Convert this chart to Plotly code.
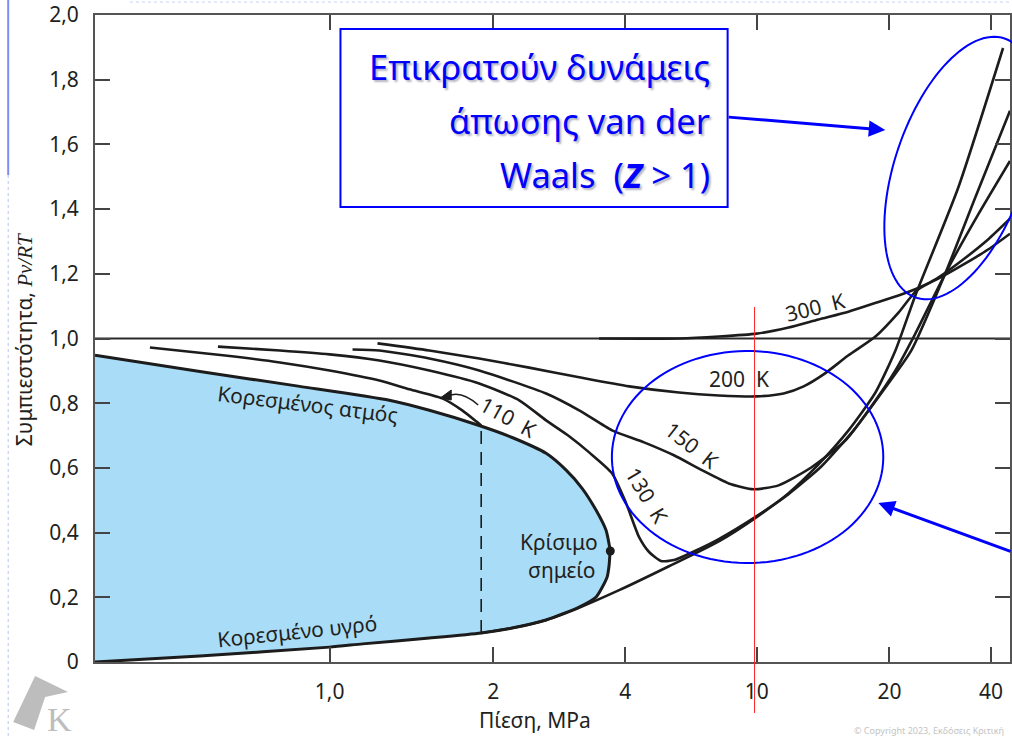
import numpy as np
import plotly.graph_objects as go

# ---------------------------------------------------------------------------
# Pressure axis (MPa): labelled pressures and their position along the axis
# ---------------------------------------------------------------------------
TICK_P = [1, 2, 4, 10, 20, 40]
TICK_TEXT = ["1,0", "2", "4", "10", "20", "40"]
TICK_POS = [0.0, 0.383, 0.692, 1.0, 1.311, 1.549]
P_MIN, P_MAX = 0.37, 45.5

Z_TICKS = [0, 0.2, 0.4, 0.6, 0.8, 1.0, 1.2, 1.4, 1.6, 1.8, 2.0]
Z_TICK_TEXT = ["0", "0,2", "0,4", "0,6", "0,8", "1,0", "1,2", "1,4", "1,6", "1,8", "2,0"]

# ---------------------------------------------------------------------------
# Compressibility factor Z = Pv/RT of nitrogen versus pressure (MPa)
# ---------------------------------------------------------------------------
P_IDEAL = [P_MIN, P_MAX]
Z_IDEAL = [1.0, 1.0]

P_SAT_VAPOR = [0.370, 0.577, 0.881, 1.288, 1.526, 1.885, 2.21, 2.641, 2.934, 3.191, 3.435, 3.619, 3.697]
Z_SAT_VAPOR = [0.948, 0.898, 0.852, 0.809, 0.778, 0.731, 0.694, 0.645, 0.593, 0.537, 0.469, 0.407, 0.346]

P_SAT_LIQUID = [3.697, 3.677, 3.638, 3.435, 3.142, 2.641, 2.21, 1.901, 1.526, 1.150, 1.0, 0.577, 0.370]
Z_SAT_LIQUID = [0.346, 0.299, 0.262, 0.201, 0.170, 0.130, 0.105, 0.0895, 0.074, 0.056, 0.046, 0.0185, 0.0]

P_CRIT, Z_CRIT = 3.70, 0.343

# 110 K: vapour branch, two-phase tie line, compressed-liquid branch
P_110_GAS = [0.467, 0.636, 0.810, 1.0, 1.235, 1.402, 1.612, 1.754, 1.861, 1.901]
Z_110_GAS = [0.972, 0.948, 0.926, 0.901, 0.870, 0.843, 0.815, 0.778, 0.744, 0.731]
P_110_SAT = 1.901
P_110_LIQ = [1.901, 2.21, 2.641, 3.092, 3.876, 5.428, 7.68, 10.0, 11.81, 13.81, 16.15, 18.59, 20.83, 23.86, 31.96, 43.4]
Z_110_LIQ = [0.0895, 0.105, 0.130, 0.164, 0.222, 0.296, 0.373, 0.448, 0.522, 0.611, 0.716, 0.833, 0.963, 1.133, 1.466, 1.898]

P_130 = [0.623, 0.810, 1.0, 1.235, 1.526, 1.885, 2.293, 2.641, 2.981, 3.311, 3.736, 4.028, 4.409, 4.726,
         5.135, 5.619, 6.687, 7.68, 10.0, 11.81, 14.03, 16.58, 19.38, 23.22, 29.26, 35.88, 45.5]
Z_130 = [0.975, 0.963, 0.951, 0.932, 0.901, 0.861, 0.809, 0.747, 0.698, 0.648, 0.583, 0.491, 0.386, 0.340,
         0.312, 0.315, 0.349, 0.380, 0.451, 0.519, 0.605, 0.716, 0.840, 0.963, 1.201, 1.435, 1.704]

P_150 = [1.102, 1.235, 1.526, 1.885, 2.641, 3.142, 3.736, 4.564, 5.619, 6.828, 8.234, 9.79, 11.21, 13.32,
         15.90, 17.93, 20.83, 23.86, 27.33, 30.48, 36.61, 45.5]
Z_150 = [0.966, 0.963, 0.938, 0.901, 0.830, 0.778, 0.716, 0.679, 0.639, 0.593, 0.552, 0.534, 0.546, 0.602,
         0.685, 0.778, 0.901, 1.015, 1.139, 1.235, 1.383, 1.549]

P_200 = [1.225, 1.526, 1.885, 2.416, 3.142, 4.113, 5.819, 7.68, 10.0, 11.51, 12.78, 14.18, 16.15, 18.59,
         21.27, 24.03, 27.90, 33.06, 39.18, 45.5]
Z_200 = [0.985, 0.963, 0.938, 0.910, 0.880, 0.852, 0.833, 0.824, 0.821, 0.830, 0.852, 0.889, 0.948, 1.006,
         1.080, 1.148, 1.188, 1.244, 1.306, 1.370]

P_300 = [3.488, 5.819, 7.68, 10.0, 11.81, 13.81, 16.15, 18.40, 21.27, 24.03, 27.90, 33.06, 39.18, 45.5]
Z_300 = [1.0, 1.0, 1.006, 1.015, 1.034, 1.059, 1.083, 1.108, 1.133, 1.154, 1.185, 1.228, 1.275, 1.324]


def axis_pos(p):
    """Pressure (MPa) -> position on the stretched logarithmic pressure axis."""
    lp = np.log10(np.atleast_1d(np.asarray(p, dtype=float)))
    lt = np.log10(TICK_P)
    out = np.interp(lp, lt, TICK_POS)
    lo, hi = lp < lt[0], lp > lt[-1]
    out[lo] = TICK_POS[0] + (lp[lo] - lt[0]) * (TICK_POS[1] - TICK_POS[0]) / (lt[1] - lt[0])
    out[hi] = TICK_POS[-1] + (lp[hi] - lt[-1]) * (TICK_POS[-1] - TICK_POS[-2]) / (lt[-1] - lt[-2])
    return out


# ---------------------------------------------------------------------------
# Figure geometry (pixels) and helpers for decorations placed in paper space
# ---------------------------------------------------------------------------
W, H = 1012, 737
M_L, M_R, M_T, M_B = 95, 0, 15, 75
PW, PH = W - M_L - M_R, H - M_T - M_B


def fx(px):
    return (px - M_L) / PW


def fy(py):
    return (H - M_B - py) / PH


def ellipse_path(cx, cy, a, b, angle_deg, n=120):
    th = np.radians(angle_deg)
    t = np.linspace(0, 2 * np.pi, n)
    xs = cx + a * np.cos(t) * np.cos(th) - b * np.sin(t) * np.sin(th)
    ys = cy - (a * np.cos(t) * np.sin(th) + b * np.sin(t) * np.cos(th))
    pts = [f"{fx(x):.5f},{fy(y):.5f}" for x, y in zip(xs, ys)]
    return "M" + " L".join(pts) + " Z"


INK = "#1c1c1c"
TEXT = "#231F20"
BLUE = "#0000FF"
FONT = "Noto Sans"
DOME_FILL = "#A9DDF7"

fig = go.Figure()

# two-phase dome
dome_p = P_SAT_VAPOR + P_SAT_LIQUID[1:]
dome_z = Z_SAT_VAPOR + Z_SAT_LIQUID[1:]
fig.add_trace(go.Scatter(x=axis_pos(dome_p), y=dome_z, fill="toself", fillcolor=DOME_FILL,
                         mode="lines", line=dict(width=0, shape="spline", smoothing=0.6),
                         hoverinfo="skip", showlegend=False))

# ideal-gas reference line Z = 1
fig.add_trace(go.Scatter(x=axis_pos(P_IDEAL), y=Z_IDEAL, mode="lines",
                         line=dict(color="#2a2a2a", width=2), showlegend=False))

# isotherms
for p, z in [(P_300, Z_300), (P_200, Z_200), (P_150, Z_150), (P_130, Z_130),
             (P_110_GAS, Z_110_GAS), (P_110_LIQ, Z_110_LIQ)]:
    fig.add_trace(go.Scatter(x=axis_pos(p), y=z, mode="lines",
                             line=dict(color=INK, width=2.6, shape="spline", smoothing=0.6),
                             showlegend=False))

# saturation lines
for p, z in [(P_SAT_VAPOR, Z_SAT_VAPOR), (P_SAT_LIQUID, Z_SAT_LIQUID)]:
    fig.add_trace(go.Scatter(x=axis_pos(p), y=z, mode="lines",
                             line=dict(color=INK, width=3, shape="spline", smoothing=0.6),
                             showlegend=False))

# 110 K evaporation at constant pressure
fig.add_trace(go.Scatter(x=axis_pos([P_110_SAT, P_110_SAT]), y=[Z_110_LIQ[0], Z_110_GAS[-1]],
                         mode="lines", line=dict(color=INK, width=1.6, dash="13px,8px"),
                         showlegend=False))

# critical point
fig.add_trace(go.Scatter(x=axis_pos([P_CRIT]), y=[Z_CRIT], mode="markers",
                         marker=dict(color=INK, size=9), showlegend=False))

# ---------------------------------------------------------------------------
# Axes
# ---------------------------------------------------------------------------
axis_common = dict(showline=True, linecolor="#555555", linewidth=2, mirror="ticks",
                   ticks="inside", ticklen=15, tickwidth=2, tickcolor="#444444",
                   showgrid=False, zeroline=False,
                   tickfont=dict(family=FONT, size=21, color=TEXT), ticklabelstandoff=10)

fig.update_xaxes(range=[axis_pos(P_MIN)[0], axis_pos(P_MAX)[0]],
                 tickmode="array", tickvals=axis_pos(TICK_P), ticktext=TICK_TEXT, **axis_common)
fig.update_yaxes(range=[0, 2.0], tickmode="array", tickvals=Z_TICKS, ticktext=Z_TICK_TEXT,
                 **axis_common)

# ---------------------------------------------------------------------------
# Text on the diagram
# ---------------------------------------------------------------------------
annotations = []


def label(text, px, py, angle=0, size=21, color=TEXT, family=FONT, xanchor="center", shadow=None):
    font = dict(family=family, size=size, color=color)
    if shadow:
        font["shadow"] = shadow
    annotations.append(dict(text=text, x=fx(px), y=fy(py), xref="paper", yref="paper",
                            showarrow=False, textangle=angle, xanchor=xanchor, yanchor="middle",
                            font=font))


label("300\u00a0\u00a0K", 817, 307, -14)
label("200\u00a0\u00a0K", 740, 379, 0)
label("150\u00a0\u00a0K", 693, 445, 38)
label("130\u00a0\u00a0K", 648, 495, 59)
label("110\u00a0\u00a0K", 509, 417, 29)
label("Κορεσμένος ατμός", 308, 404, 7)
label("Κορεσμένο υγρό", 298, 631, -6)
label("Κρίσιμο", 560, 542)
label("σημείο", 563, 570)

# axis titles
label("Πίεση, MPa", 536, 720)
label('Συμπιεστότητα, <span style="font-family:Liberation Serif"><i>Pv/RT</i></span>',
      24, 340, -90)

# call-out box text
BOX_LINES = ["Επικρατούν δυνάμεις", "άπωσης van der", "Waals  (<b><i>Z</i></b> > 1)"]
for i, line in enumerate(BOX_LINES):
    label(line, 713, 67 + 54 * i, 0, 34.5, BLUE, FONT, "right",
          shadow="2px 2px 2px rgba(40,40,80,0.35)")

# blue arrows
annotations.append(dict(x=fx(887), y=fy(130), xref="paper", yref="paper", ax=-158, ay=-13,
                        text="", showarrow=True, arrowhead=2, arrowsize=1.1, arrowwidth=3,
                        arrowcolor=BLUE, standoff=0))
annotations.append(dict(x=fx(880), y=fy(503), xref="paper", yref="paper", ax=140, ay=49,
                        text="", showarrow=True, arrowhead=2, arrowsize=1.1, arrowwidth=3,
                        arrowcolor=BLUE, standoff=0))

# publisher marks
label("© Copyright 2023, Εκδόσεις Κριτική", 1008, 730, 0, 9, "#c4c4c4", FONT, "right")
label("K", 59, 719, 0, 34, "#bdbdbd", "Liberation Serif")

# ---------------------------------------------------------------------------
# Shapes
# ---------------------------------------------------------------------------
shapes = [
    dict(type="rect", xref="paper", yref="paper", x0=fx(341), x1=fx(729), y0=fy(29), y1=fy(207),
         line=dict(color=BLUE, width=2)),
    dict(type="path", xref="paper", yref="paper", path=ellipse_path(962, 168, 137, 65, 71),
         line=dict(color=BLUE, width=2)),
    dict(type="path", xref="paper", yref="paper", path=ellipse_path(749, 457, 136, 106, 0),
         line=dict(color=BLUE, width=2)),
    dict(type="line", xref="paper", yref="paper", x0=fx(756), x1=fx(756), y0=fy(307), y1=fy(713),
         line=dict(color="#ff2020", width=1)),
    # curved pointer from the 110 K label to its isotherm
    dict(type="path", xref="paper", yref="paper",
         path=f"M{fx(479)},{fy(405)} Q{fx(462)},{fy(390)} {fx(449)},{fy(396)}",
         line=dict(color=INK, width=1.5)),
    dict(type="path", xref="paper", yref="paper",
         path=f"M{fx(441)},{fy(398)} L{fx(452)},{fy(390)} L{fx(452)},{fy(400)} Z",
         fillcolor=INK, line=dict(color=INK, width=1)),
    # publisher logo
    dict(type="path", xref="paper", yref="paper",
         path=f"M{fx(13)},{fy(722)} L{fx(35)},{fy(676)} L{fx(68)},{fy(692)} L{fx(45)},{fy(697)} "
              f"L{fx(34)},{fy(730)} Z",
         fillcolor="#bdbdbd", line=dict(width=0)),
    # slide guides
    dict(type="line", xref="paper", yref="paper", x0=fx(8), x1=fx(8), y0=fy(0), y1=fy(175),
         line=dict(color="#7d8df3", width=2)),
    dict(type="line", xref="paper", yref="paper", x0=fx(8), x1=fx(8), y0=fy(175), y1=fy(737),
         line=dict(color="#b8c4f2", width=1, dash="dot")),
    dict(type="line", xref="paper", yref="paper", x0=fx(130), x1=fx(1012), y0=fy(2), y1=fy(2),
         line=dict(color="#c8d2f5", width=1, dash="dot")),
]

fig.update_layout(width=W, height=H, margin=dict(l=M_L, r=M_R, t=M_T, b=M_B),
                  paper_bgcolor="white", plot_bgcolor="white", showlegend=False,
                  annotations=annotations, shapes=shapes)

fig.write_html("out.html")
